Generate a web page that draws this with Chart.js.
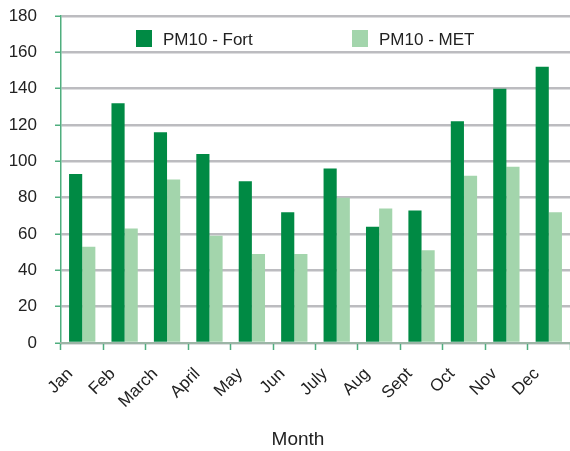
<!DOCTYPE html>
<html>
<head>
<meta charset="utf-8">
<script src="https://cdn.jsdelivr.net/npm/chart.js@4"></script>
<style>
  html, body { margin: 0; padding: 0; background: #fff; }
  #wrap { width: 570px; height: 451px; }
</style>
</head>
<body>
<div id="wrap"><canvas id="pm-chart"></canvas></div>
<script>
const months = ['Jan', 'Feb', 'March', 'April', 'May', 'Jun', 'July', 'Aug', 'Sept', 'Oct', 'Nov', 'Dec'];
const pmFort = [93, 132, 116, 104, 89, 72, 96, 64, 73, 122, 140, 152];
const pmMet = [53, 63, 90, 59, 49, 49, 80, 74, 51, 92, 97, 72];
const xTitle = 'Month';

const darkGreen = '#008a44';
const lightGreen = '#a3d5ac';
const axisGreen = '#4fae7e';
const fontFamily = '"Liberation Sans", Arial, sans-serif';

// legend inside the plot and the x title, drawn by hand
const extras = {
  id: 'extras',
  afterDraw(chart) {
    const c = chart.ctx;
    const items = [
      { x: 136, color: darkGreen, text: chart.data.datasets[0].label },
      { x: 352, color: lightGreen, text: chart.data.datasets[1].label }
    ];
    c.save();
    c.font = '17px ' + fontFamily;
    c.textBaseline = 'middle';
    items.forEach(it => {
      c.fillStyle = it.color;
      c.fillRect(it.x, 30, 16, 17);
      c.fillStyle = '#222';
      c.fillText(it.text, it.x + 27, 40);
    });
    c.font = '19px ' + fontFamily;
    c.textAlign = 'center';
    c.fillText(xTitle, 298, 440);
    c.restore();
  }
};

const ctx = document.getElementById('pm-chart');
const chart = new Chart(ctx, {
  type: 'bar',
  data: {
    labels: months,
    datasets: [{
      label: 'PM10 - Fort',
      data: pmFort,
      backgroundColor: darkGreen,
      categoryPercentage: 0.62,
      barPercentage: 1
    }, {
      label: 'PM10 - MET',
      data: pmMet,
      backgroundColor: lightGreen,
      categoryPercentage: 0.62,
      barPercentage: 1
    }]
  },
  options: {
    responsive: true,
    maintainAspectRatio: false,
    animation: false,
    layout: { padding: { left: 0, right: 0, top: 16, bottom: 0 } },
    plugins: {
      legend: { display: false },
      tooltip: { enabled: false }
    },
    scales: {
      y: {
        min: 0,
        max: 180,
        afterFit: s => { s.width = 61; s.paddingTop = 0; s.paddingBottom = 0; },
        ticks: {
          stepSize: 20,
          color: '#222',
          padding: 18,
          font: { family: fontFamily, size: 17 }
        },
        grid: {
          color: '#bcbcc0',
          lineWidth: 2.5,
          tickColor: axisGreen,
          tickLength: 6,
          tickWidth: 1.5
        },
        border: { color: axisGreen, width: 1.5 }
      },
      x: {
        afterFit: s => { s.height = 108; s.paddingLeft = 0; s.paddingRight = 0; },
        ticks: {
          color: '#222',
          maxRotation: 45,
          minRotation: 45,
          padding: 14,
          labelOffset: -12,
          font: { family: fontFamily, size: 17 }
        },
        grid: {
          offset: true,
          drawOnChartArea: false,
          tickColor: axisGreen,
          tickLength: 7,
          tickWidth: 1.5
        },
        border: { color: '#9cb5a6', width: 2 }
      }
    }
  },
  plugins: [extras]
});
</script>
</body>
</html>
